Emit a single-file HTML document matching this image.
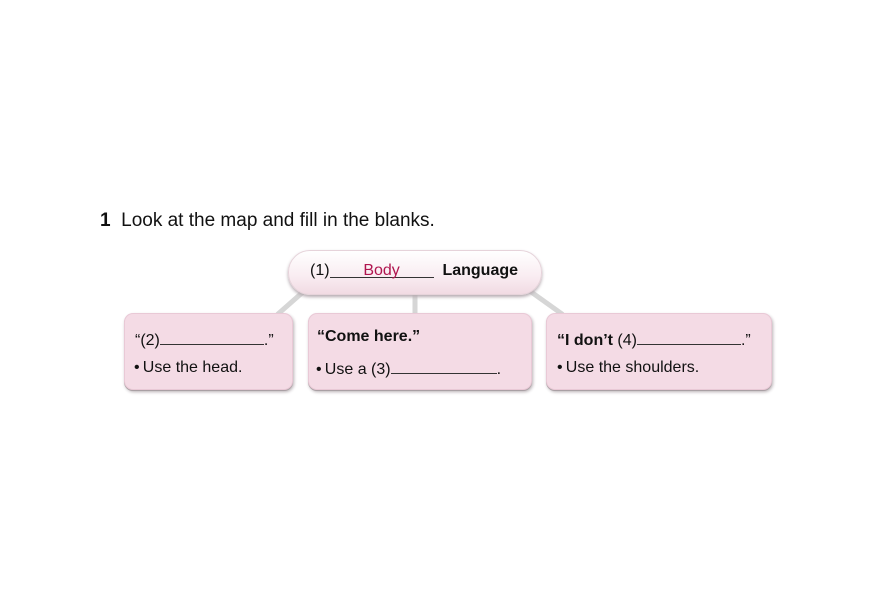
<!DOCTYPE html>
<html><head><meta charset="utf-8"><style>
body{margin:0;width:873px;height:612px;background:#fff;font-family:"Liberation Sans",Arial,sans-serif;position:relative;overflow:hidden;color:#111}
.a{position:absolute;white-space:nowrap}
.box{position:absolute;background:#f4dbe5;border-radius:9px;box-shadow:0 1px 0 #a9a0a4,1px 2px 3px #b8b0b4;border:1px solid #e9c9d6}
.pill{position:absolute;left:288px;top:250px;width:252px;height:43px;border-radius:22px;background:linear-gradient(#fff,#f9ecf1 60%,#f1dbe3);box-shadow:0 2px 3px #b5aab0;border:1px solid #e6d3da}
.t{font-size:16px}
u{text-decoration:none;display:inline-block;border-bottom:1px solid #333;height:15px;vertical-align:baseline}
</style></head><body>
<div class="a" style="left:100px;top:210px;font-size:19px"><b>1</b>&nbsp; Look at the map and fill in the blanks.</div>
<svg class="a" style="left:0;top:0" width="873" height="612">
<g stroke="#d6d6d6" stroke-width="5" stroke-linecap="round">
<line x1="303" y1="292" x2="278" y2="314"/>
<line x1="415" y1="292" x2="415" y2="314"/>
<line x1="527" y1="289" x2="562" y2="314"/>
</g></svg>
<div class="pill"></div>
<div class="a t" style="left:310px;top:262px">(1)<u style="width:104px;position:relative;text-align:center"><span style="color:#b0154f">Body</span></u>&nbsp;&nbsp;<b>Language</b></div>
<div class="box" style="left:124px;top:313px;width:167px;height:75px"></div>
<div class="box" style="left:308px;top:313px;width:222px;height:75px"></div>
<div class="box" style="left:546px;top:313px;width:224px;height:75px"></div>
<div class="a t" style="left:135px;top:329px">“(2)<u style="width:104px"></u>.”</div>
<div class="a t" style="left:134px;top:359px">•&thinsp;Use the head.</div>
<div class="a t" style="left:317px;top:328px"><b>“Come here.”</b></div>
<div class="a t" style="left:316px;top:358px">•&thinsp;Use a (3)<u style="width:106px"></u>.</div>
<div class="a t" style="left:557px;top:329px"><b>“I don’t</b> (4)<u style="width:104px"></u>.”</div>
<div class="a t" style="left:557px;top:359px">•&thinsp;Use the shoulders.</div>
</body></html>
